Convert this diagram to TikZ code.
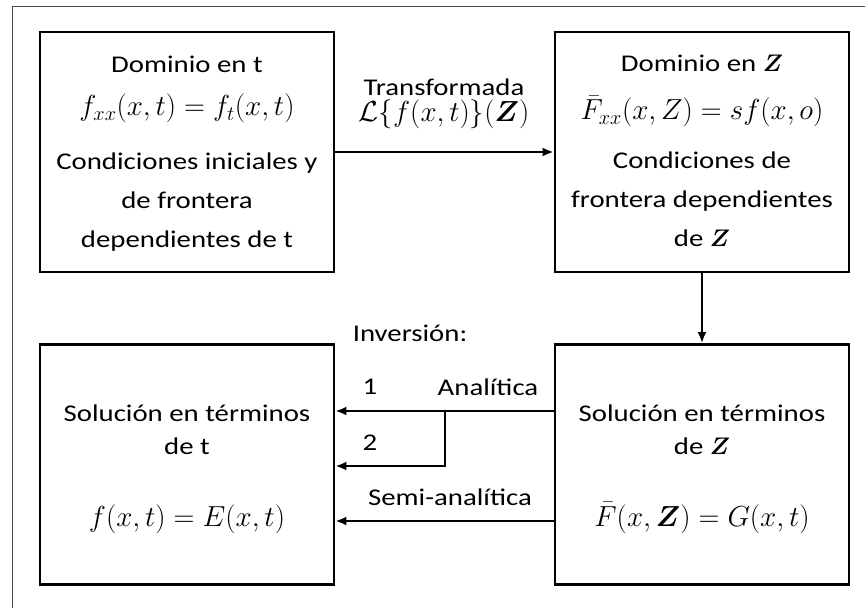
\documentclass[tikz,border=0pt]{standalone}
\usepackage{fix-cm}
\usepackage{fontspec}
\setmainfont{Carlito}[FakeStretch=1.2]
\usepackage{bm}
\usetikzlibrary{arrows.meta}
\newcommand{\mat}[1]{{\fontsize{29}{30}\selectfont$#1$}}

\begin{document}
\begin{tikzpicture}[x=1pt,y=-1pt,>={Latex[length=11pt,width=9pt]},
	font=\fontsize{24}{39}\selectfont, line join=miter,
	caja/.style={draw,line width=2.8pt,minimum width=294pt,minimum height=240pt},
	texto/.style={align=center,inner sep=0pt},
	flecha/.style={->,line width=2.4pt},
	etiq/.style={inner sep=0pt}]
	\useasboundingbox (0,0) rectangle (865,608);
	\draw[black!70, line width=1pt] (12,608) -- (12,6) -- (865,6);
	% cajas
	\node[caja] (dt) at (187,152) {};
	\node[caja] (dz) at (702,152) {};
	\node[caja] (st) at (187,464.5) {};
	\node[caja] (sz) at (702,464.5) {};
	% textos de las cajas
	\node[texto] (tdt) at (187,154) {Dominio en t\\[4pt]
		\mat{f_{xx}(x,t)=f_t(x,t)}\\[15pt]
		Condiciones iniciales y\\ de frontera\\ dependientes de t};
	\node[texto] (tdz) at (702,151) {Dominio en $\bm{Z}$\\[9pt]
		\mat{\bar{F}_{xx}(x,Z)=sf(x,o)}\\[10pt]
		Condiciones de\\ frontera dependientes\\ de $\bm{Z}$};
	\node[texto,font=\fontsize{24}{33}\selectfont] (tst) at (187,469) {Solución en términos\\ de t\\[39pt]
		\mat{f(x,t)=E(x,t)}};
	\node[texto,font=\fontsize{24}{33}\selectfont] (tsz) at (702,469) {Solución en términos\\ de $\bm{Z}$\\[39pt]
		\mat{\bar{F}(x,\bm{Z})=G(x,t)}};
	% etiquetas
	\node[etiq,align=center,font=\fontsize{24}{26}\selectfont] (trans) at (444,104)
		{Transformada\\ \mat{\mathcal{L}\{f(x,t)\}(\bm{Z})}};
	\node[etiq] (inv) at (410,333) {Inversión:};
	\node[etiq] (uno) at (370,387) {1};
	\node[etiq] (ana) at (488,387) {Analítica};
	\node[etiq] (dos) at (370,443) {2};
	\node[etiq] (semi) at (450,497) {Semi-analítica};
	% flechas
	\coordinate (r1) at (445,411);
	\coordinate (r2) at (445,466);
	\coordinate (r3) at (445,521);
	\draw[flecha] (dt) -- (dz);
	\draw[flecha] (dz) -- (sz);
	\draw[flecha] (sz.west |- r1) -- (st.east |- r1);
	\draw[flecha] (r1) -- (r2) -- (st.east |- r2);
	\draw[flecha] (sz.west |- r3) -- (st.east |- r3);
\end{tikzpicture}
\end{document}
